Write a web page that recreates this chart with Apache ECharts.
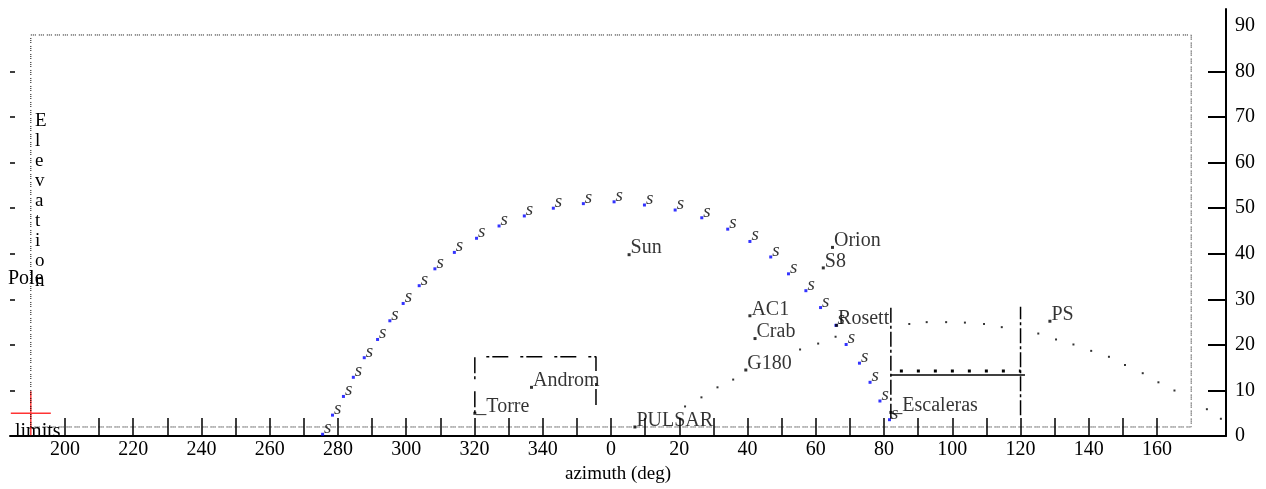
<!DOCTYPE html>
<html><head><meta charset="utf-8">
<script src="https://cdn.jsdelivr.net/npm/echarts@6/dist/echarts.min.js"></script>
<style>html,body{margin:0;padding:0;background:#fff}#c{width:1266px;height:489px}</style>
</head><body><div id="c"></div>
<script>
// Sun track (azimuth unwrapped past 360, elevation in deg)
const sunAz = [275.5,278.4,281.6,284.5,287.7,291.6,295.2,299.1,303.8,308.4,314.1,320.6,327.2,334.6,343.1,351.9,360.9,369.8,378.8,386.6,394.2,400.7,406.8,412.0,417.1,421.4,425.9,428.9,432.8,435.9,438.8,441.6];
const sunEl = [0.4,4.6,8.7,12.9,17.2,21.2,25.3,29.1,33.0,36.7,40.3,43.4,46.1,48.3,50.0,51.0,51.4,50.7,49.6,47.9,45.4,42.7,39.3,35.6,31.9,28.2,24.3,20.1,16.0,11.8,7.7,3.6];
// Named sources
const srcNames = ['Sun','Orion','S8','AC1','Crab','G180','Rosett','PS','Androm','PULSAR','_Torre','_Escaleras'];
const srcAz = [365.3,424.9,422.2,400.7,402.2,399.5,426.1,488.6,336.7,367.0,320.1,442.0];
const srcEl = [39.8,41.4,36.9,26.4,21.4,14.5,24.3,25.2,10.7,2.0,5.0,5.2];
const plainNames = ['north'];
const plainAz = [350.9];
const plainEl = [5.0];
// Dotted source track
const trackAz = [381.7,386.5,391.2,395.8,415.4,420.7,425.8,447.4,452.5,458.2,463.7,469.3,474.5,485.2,490.4,495.5,500.7,505.9,510.6,515.8,520.4,525.1,534.6,538.7];
const trackEl = [6.5,8.5,10.7,12.4,19.0,20.3,21.8,24.6,25.0,25.0,24.9,24.6,23.9,22.5,21.2,20.1,18.7,17.4,15.6,13.8,11.8,10.0,5.9,3.8];
// Limits box and horizon obstacles
const limitsAz = [190,190,530,530,190];
const limitsEl = [2,88,88,2,2];
const torreAz = [320.1,320.1,355.6,355.6];
const torreEl = [5.0,17.4,17.4,5.0];
const escLeftAz = [442.0,442.0];
const escLeftEl = [3.8,28.4];
const escRightAz = [480.0,480.0];
const escRightEl = [4.6,28.4];
const escBarAz = [442.0,481.3];
const escBarEl = [13.4,13.4];
const escDotsAz = [442.0,480.0];
const escDotsEl = [14.3,14.3];
const poleMark = [190,5];
// Axis ticks / labels
const xTickValues = [200,210,220,230,240,250,260,270,280,290,300,310,320,330,340,350,360,370,380,390,400,410,420,430,440,450,460,470,480,490,500,510,520];
const xLabelValues = [200,220,240,260,280,300,320,340,360,380,400,420,440,460,480,500,520];
const yTickValues = [10,20,30,40,50,60,70,80];
const yLabelValues = [0,10,20,30,40,50,60,70,80,90];

const zip = (a,b) => a.map((v,i)=>[v,b[i]]);
const FONT = 'Liberation Serif';
const chart = echarts.init(document.getElementById('c'), null, {renderer:'canvas'});
const lbl = {show:true, position:[3,5], align:'left', verticalAlign:'bottom', color:'#000', fontFamily:FONT, fontSize:20};
chart.setOption({
  animation:false,
  backgroundColor:'#fff',
  grid:{left:10,right:40,top:9,bottom:48,containLabel:false},
  xAxis:{type:'value',min:183.9,max:540.2,
    axisLine:{show:true,lineStyle:{color:'#000',width:2}},
    axisTick:{show:true,inside:true,length:18,customValues:xTickValues,lineStyle:{color:'#000',width:1.5}},
    axisLabel:{show:true,customValues:xLabelValues,formatter:v=>String(Math.round(v)%360),color:'#000',fontFamily:FONT,fontSize:20,margin:4},
    splitLine:{show:false},
    name:'azimuth (deg)',nameLocation:'middle',nameGap:24,nameTextStyle:{color:'#000',fontFamily:FONT,fontSize:19}
  },
  yAxis:[
    {type:'value',min:0,max:93.7,position:'right',
      axisLine:{show:true,onZero:false,lineStyle:{color:'#000',width:2}},
      axisTick:{show:true,inside:true,length:18,customValues:yTickValues,lineStyle:{color:'#000',width:2}},
      axisLabel:{show:true,customValues:yLabelValues,color:'#000',fontFamily:FONT,fontSize:20,margin:9},
      splitLine:{show:false}},
    {type:'value',min:0,max:93.7,position:'left',
      axisLine:{show:false},
      axisTick:{show:true,inside:true,length:5,customValues:yTickValues,lineStyle:{color:'#000',width:1.5}},
      axisLabel:{show:false},splitLine:{show:false}}
  ],
  graphic:[
    {type:'text',left:35,top:111,style:{text:'E\nl\ne\nv\na\nt\ni\no\nn',font:'19px "Liberation Serif"',lineHeight:20,fill:'#000',align:'center'}},
    {type:'text',left:8,top:269,style:{text:'Pole',font:'20px "Liberation Serif"',fill:'#000'}},
    {type:'text',left:15,top:422,style:{text:'limits',font:'20px "Liberation Serif"',fill:'#000'}}
  ],
  series:[
    {type:'line',data:zip(limitsAz,limitsEl),symbol:'none',silent:true,lineStyle:{color:'#000',width:1,type:[1,1,1,1,1,3]}},
    {type:'line',data:zip(torreAz,torreEl),symbol:'none',silent:true,lineStyle:{color:'#000',width:1.5,type:[3,3,16,12]}},
    {type:'line',data:zip(escLeftAz,escLeftEl),symbol:'none',silent:true,lineStyle:{color:'#000',width:1.5,type:[15,3,3,3]}},
    {type:'line',data:zip(escRightAz,escRightEl),symbol:'none',silent:true,lineStyle:{color:'#000',width:1.5,type:[15,3,3,3]}},
    {type:'line',data:zip(escBarAz,escBarEl),symbol:'none',silent:true,lineStyle:{color:'#000',width:1.5}},
    {type:'line',data:zip(escDotsAz,escDotsEl),symbol:'none',silent:true,lineStyle:{color:'#000',width:3,type:[3,14],dashOffset:-9}},
    {type:'scatter',data:zip(trackAz,trackEl),symbol:'rect',symbolSize:2,itemStyle:{color:'#000'},silent:true},
    {type:'scatter',data:[poleMark],symbol:'path://M0 22 L40 22 M20 0 L20 44',symbolSize:[40,44],itemStyle:{color:'none',borderColor:'#ff0000',borderWidth:1.5},silent:true},
    {type:'scatter',data:zip(sunAz,sunEl),symbol:'rect',symbolSize:3,itemStyle:{color:'#0000ff'},
      label:Object.assign({},lbl,{formatter:'s',fontStyle:'italic',fontSize:19})},
    {type:'scatter',data:srcNames.map((n,i)=>({name:n,value:[srcAz[i],srcEl[i]]})),symbol:'rect',symbolSize:3,itemStyle:{color:'#000'},
      label:Object.assign({},lbl,{formatter:'{b}'})},
    {type:'scatter',data:plainNames.map((n,i)=>({name:n,value:[plainAz[i],plainEl[i]]})),symbol:'none',
      label:Object.assign({},lbl,{formatter:'{b}'})}
  ]
});
</script></body></html>
